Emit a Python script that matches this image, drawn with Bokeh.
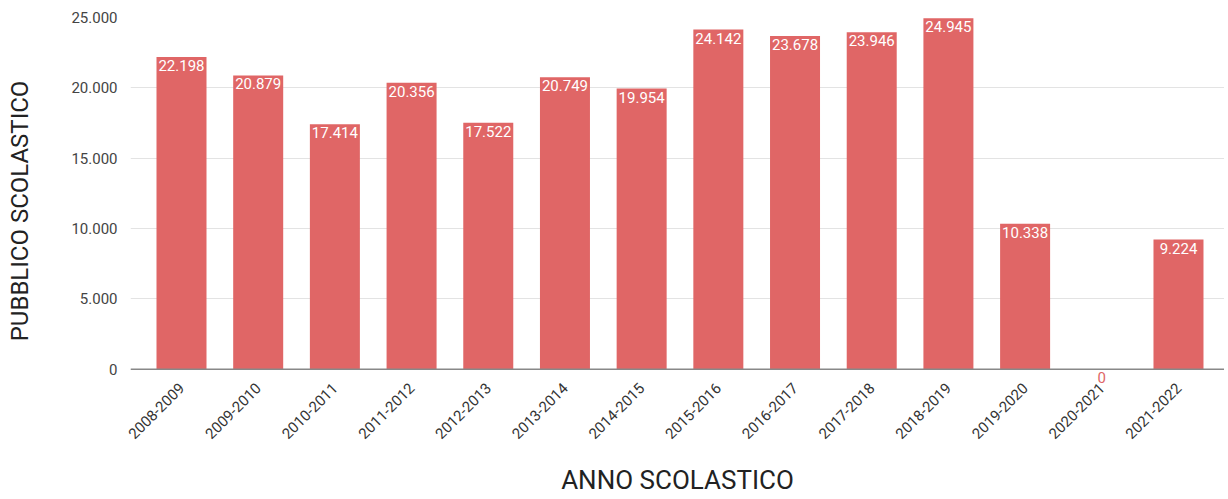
from bokeh.plotting import figure
from bokeh.models import ColumnDataSource, Range1d, CustomJSTickFormatter, FixedTicker, LabelSet, Span
from bokeh.core.properties import value
from bokeh.embed import file_html
from bokeh.resources import INLINE
from math import pi

years = ["2008-2009", "2009-2010", "2010-2011", "2011-2012", "2012-2013", "2013-2014",
         "2014-2015", "2015-2016", "2016-2017", "2017-2018", "2018-2019", "2019-2020",
         "2020-2021", "2021-2022"]
pubblico = [22198, 20879, 17414, 20356, 17522, 20749, 19954, 24142, 23678, 23946,
            24945, 10338, 0, 9224]
y_ticks = [0, 5000, 10000, 15000, 20000, 25000]

BAR = "#e06666"
xs = list(range(len(years)))
labels = [f"{v:,}".replace(",", ".") for v in pubblico]
label_colors = ["#ffffff" if v > 0 else BAR for v in pubblico]

src = ColumnDataSource(dict(x=xs, y=pubblico, lab=labels, lc=label_colors))

p = figure(x_range=Range1d(-0.665, 13.6), y_range=Range1d(-2500, 25000),
           width=1224, height=497, output_backend="svg", toolbar_location=None,
           min_border_left=130, min_border_right=0, min_border_top=17, min_border_bottom=93)
p.outline_line_color = None
p.background_fill_color = "white"

p.vbar(x="x", top="y", bottom=0, width=0.652, source=src, fill_color=BAR, line_color=None)
p.add_layout(Span(location=0, dimension="width", line_color="#888888", line_width=1.5))
lbl = LabelSet(x="x", y="y", text="lab", source=src, text_color="lc", text_align="center",
               text_baseline="top", y_offset=-3, text_font=value("Roboto"),
               text_font_size="15px")
p.add_layout(lbl)

p.xgrid.grid_line_color = None
p.ygrid.grid_line_color = "#e3e3e3"
p.ygrid.grid_line_width = 1

p.yaxis.ticker = FixedTicker(ticks=y_ticks)
p.yaxis.formatter = CustomJSTickFormatter(code="return tick.toFixed(0).replace(/\\B(?=(\\d{3})+(?!\\d))/g, '.');")
p.yaxis.axis_line_color = None
p.yaxis.major_tick_line_color = None
p.yaxis.minor_tick_line_color = None
p.yaxis.major_label_text_font = "Roboto"
p.yaxis.major_label_text_font_size = "15px"
p.yaxis.major_label_text_color = "#444444"
p.yaxis.major_label_standoff = 7
p.yaxis.axis_label = "PUBBLICO SCOLASTICO"
p.yaxis.axis_label_text_font = "Roboto"
p.yaxis.axis_label_text_font_style = "normal"
p.yaxis.axis_label_text_font_size = "24px"
p.yaxis.axis_label_text_color = "#222222"
p.yaxis.axis_label_standoff = 34

p.xaxis.ticker = FixedTicker(ticks=xs)
p.xaxis.major_label_overrides = {i: y for i, y in zip(xs, years)}
p.xaxis.axis_line_color = None
p.xaxis.major_tick_line_color = None
p.xaxis.minor_tick_line_color = None
p.xaxis.major_label_orientation = pi / 4
p.xaxis.major_label_text_font = "Roboto"
p.xaxis.major_label_text_font_size = "15px"
p.xaxis.major_label_text_color = "#333333"
p.xaxis.major_label_standoff = -25
p.xaxis.axis_label = "ANNO SCOLASTICO"
p.xaxis.axis_label_text_font = "Roboto"
p.xaxis.axis_label_text_font_style = "normal"
p.xaxis.axis_label_text_font_size = "26px"
p.xaxis.axis_label_text_color = "#222222"
p.xaxis.axis_label_standoff = 18

open("out.html", "w").write(file_html(p, INLINE))
